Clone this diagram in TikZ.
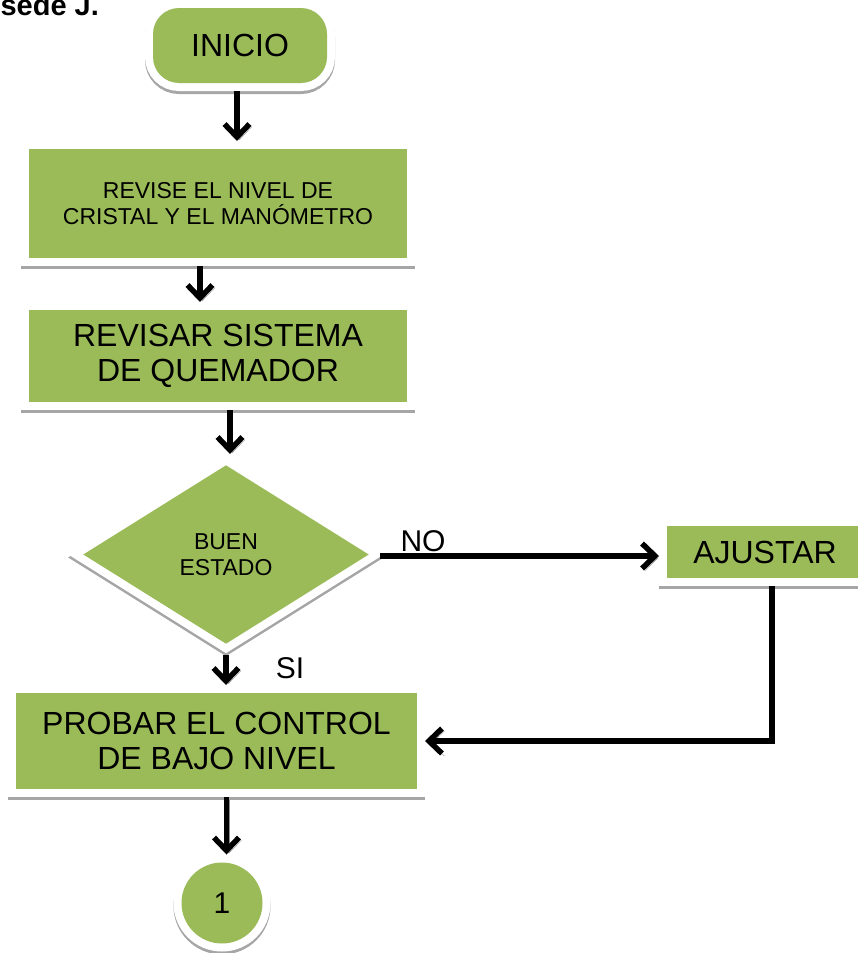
\documentclass[tikz,border=0pt]{standalone}
\usepackage{fontspec}
\setmainfont{Liberation Sans}
\usetikzlibrary{shapes.geometric,shadows,arrows.meta}
\definecolor{boxgreen}{RGB}{155,187,89}

\begin{document}
\begin{tikzpicture}[x=1pt,y=-1pt,
  framed/.style={fill=boxgreen,inner sep=0pt,outer sep=8pt,align=center,
    general shadow={draw=black!35,line width=16pt,shadow yshift=-3pt},
    preaction={draw=white,line width=16pt}},
  bigtext/.style={font=\fontsize{32}{35.5}\selectfont},
  smalltext/.style={font=\fontsize{23}{26.5}\selectfont},
  flow/.style={line width=5.5pt,-{Straight Barb[length=13pt,width=25pt]},
    general shadow={draw=black!45,shadow xshift=2.5pt,shadow yshift=-2.5pt}}]
  \useasboundingbox (0,0) rectangle (857,953);
  \node(sede)[anchor=base west,font=\bfseries\fontsize{29}{34}\selectfont] at (-3,16) {sede J.};
  \node(inicio)[framed,bigtext,rounded corners=26pt,minimum width=174pt,minimum height=75pt] at (240,45.5) {INICIO};
  \node(revise)[framed,smalltext,minimum width=378pt,minimum height=109pt] at (218,203.5) {REVISE EL NIVEL DE\\CRISTAL Y EL MANÓMETRO};
  \node(revisar)[framed,bigtext,minimum width=378pt,minimum height=92pt] at (218,356) {REVISAR SISTEMA\\DE QUEMADOR};
  \node(estado)[framed,smalltext,diamond,minimum width=292pt,minimum height=185pt] at (226,554.5) {BUEN\\ESTADO};
  \node(ajustar)[framed,bigtext,minimum width=196pt,minimum height=52pt] at (765,552) {AJUSTAR};
  \node(probar)[framed,bigtext,minimum width=401pt,minimum height=96pt] at (216.5,741) {PROBAR EL CONTROL\\DE BAJO NIVEL};
  \node(uno)[framed,font=\fontsize{30}{34}\selectfont,circle,minimum size=81pt] at (222,903) {1};
  \draw [flow] ([xshift=-3pt]inicio.south) -- ([xshift=-3pt]inicio.south |- revise.north);
  \draw [flow] ([xshift=-18pt]revise.south) -- ([xshift=-18pt]revise.south |- revisar.north);
  \draw [flow] ([xshift=12pt]revisar.south) -- ([xshift=12pt]revisar.south |- estado.north);
  \draw [flow] (estado.south) -- (estado.south |- probar.north);
  \draw [flow] ([yshift=-1.5pt]estado.east) -- ([yshift=-1.5pt]estado.east -| ajustar.west);
  \draw [flow] ([xshift=7pt]ajustar.south) |- (probar.east);
  \draw [flow] ([xshift=10pt]probar.south) -- ([xshift=10pt]probar.south |- uno.north);
  \node(no)[font=\fontsize{30}{34}\selectfont] at (423,541) {NO};
  \node(si)[font=\fontsize{30}{34}\selectfont] at (290,668) {SI};
\end{tikzpicture}
\end{document}
